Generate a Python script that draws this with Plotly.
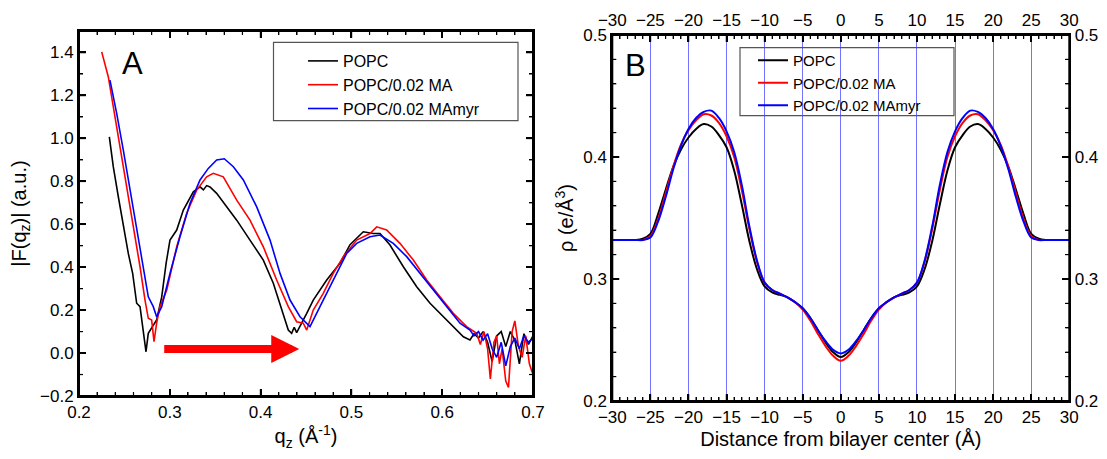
import plotly.graph_objects as go

# ---------------- Panel A: |F(qz)| ----------------
qA_popc = [0.2334, 0.2378, 0.2433, 0.2488, 0.2543, 0.2591, 0.2635, 0.2672, 0.2701, 0.2738,
           0.2763, 0.2790, 0.2818, 0.2855, 0.2911, 0.2960, 0.3002, 0.3076, 0.3149, 0.3259,
           0.3333, 0.3370, 0.3406, 0.3443, 0.3516, 0.3627, 0.3737, 0.3883, 0.4030, 0.4140,
           0.4214, 0.4270, 0.4305, 0.4342, 0.4370, 0.4397, 0.4434, 0.4508, 0.4580, 0.4728,
           0.4874, 0.4985, 0.5131, 0.5241, 0.5315, 0.5425, 0.5572, 0.5719, 0.5866, 0.6012,
           0.6122, 0.6233, 0.6306, 0.6350, 0.6400, 0.6450, 0.6500, 0.6550, 0.6600, 0.6650,
           0.6700, 0.6750, 0.6800, 0.6850, 0.6900, 0.6950, 0.7000]
FA_popc = [1.007, 0.867, 0.728, 0.588, 0.464, 0.371, 0.232, 0.216, 0.123, 0.006,
           0.092, 0.110, 0.123, 0.154, 0.262, 0.420, 0.526, 0.573, 0.666, 0.751,
           0.774, 0.760, 0.780, 0.774, 0.744, 0.681, 0.619, 0.526, 0.433, 0.325,
           0.232, 0.160, 0.107, 0.092, 0.120, 0.095, 0.123, 0.185, 0.247, 0.340,
           0.418, 0.505, 0.565, 0.557, 0.557, 0.503, 0.402, 0.309, 0.232, 0.169,
           0.123, 0.076, 0.061, 0.090, 0.070, 0.100, 0.050, -0.040, 0.080, 0.100,
           0.030, 0.100, 0.060, -0.050, 0.090, 0.040, 0.080]

qA_ma = [0.2250, 0.2323, 0.2378, 0.2452, 0.2525, 0.2598, 0.2672, 0.2727, 0.2763, 0.2800,
         0.2826, 0.2855, 0.2892, 0.2966, 0.3076, 0.3186, 0.3296, 0.3406, 0.3479, 0.3589,
         0.3737, 0.3883, 0.4030, 0.4177, 0.4305, 0.4397, 0.4470, 0.4508, 0.4580, 0.4690,
         0.4800, 0.4911, 0.5058, 0.5205, 0.5279, 0.5388, 0.5535, 0.5682, 0.5829, 0.5976,
         0.6122, 0.6269, 0.6380, 0.6420, 0.6460, 0.6500, 0.6530, 0.6570, 0.6600, 0.6630,
         0.6660, 0.6700, 0.6730, 0.6770, 0.6800, 0.6840, 0.6880, 0.6920, 0.6960, 0.7000]
FA_ma = [1.403, 1.286, 1.147, 0.961, 0.774, 0.588, 0.402, 0.247, 0.162, 0.154,
         0.053, 0.139, 0.216, 0.293, 0.495, 0.651, 0.759, 0.821, 0.837, 0.821,
         0.712, 0.619, 0.495, 0.340, 0.216, 0.146, 0.139, 0.107, 0.200, 0.278,
         0.371, 0.449, 0.526, 0.557, 0.588, 0.573, 0.511, 0.433, 0.340, 0.262,
         0.185, 0.123, 0.092, 0.040, 0.100, 0.020, -0.120, 0.050, 0.080, -0.050,
         0.020, -0.130, -0.160, 0.100, 0.150, 0.030, -0.020, 0.080, -0.050, -0.100]

qA_mamyr = [0.2341, 0.2415, 0.2488, 0.2562, 0.2635, 0.2708, 0.2763, 0.2818, 0.2855, 0.2911,
            0.3002, 0.3112, 0.3222, 0.3333, 0.3424, 0.3516, 0.3600, 0.3700, 0.3810, 0.3957,
            0.4104, 0.4214, 0.4324, 0.4434, 0.4544, 0.4654, 0.4800, 0.4948, 0.5058, 0.5205,
            0.5315, 0.5461, 0.5609, 0.5756, 0.5902, 0.6050, 0.6196, 0.6306, 0.6350, 0.6400,
            0.6450, 0.6500, 0.6550, 0.6600, 0.6650, 0.6700, 0.6750, 0.6800, 0.6850, 0.6900,
            0.6950, 0.7000]
FA_mamyr = [1.271, 1.116, 0.945, 0.759, 0.573, 0.402, 0.262, 0.216, 0.169, 0.216,
            0.371, 0.542, 0.697, 0.806, 0.860, 0.899, 0.905, 0.868, 0.806, 0.681,
            0.526, 0.371, 0.247, 0.169, 0.123, 0.216, 0.340, 0.464, 0.511, 0.542,
            0.550, 0.511, 0.449, 0.371, 0.293, 0.216, 0.139, 0.107, 0.080, 0.100,
            0.060, 0.090, 0.020, -0.020, 0.050, -0.060, 0.030, 0.070, 0.020, 0.080,
            0.050, 0.070]

# ---------------- Panel B: electron density profiles ----------------
z_B = list(range(-30, 31))
rho_popc = [0.332, 0.332, 0.332, 0.332, 0.333, 0.337, 0.353, 0.373, 0.392, 0.406,
            0.416, 0.423, 0.427, 0.425, 0.418, 0.408, 0.389, 0.361, 0.331, 0.308,
            0.294, 0.289, 0.287, 0.285, 0.281, 0.276, 0.268, 0.258, 0.248, 0.240,
            0.236,
            0.240, 0.248, 0.258, 0.268, 0.276, 0.281, 0.285, 0.287, 0.289, 0.294,
            0.308, 0.331, 0.361, 0.389, 0.408, 0.418, 0.425, 0.427, 0.423, 0.416,
            0.406, 0.392, 0.373, 0.353, 0.337, 0.333, 0.332, 0.332, 0.332, 0.332]
rho_ma = [0.332, 0.332, 0.332, 0.332, 0.332, 0.335, 0.349, 0.370, 0.392, 0.410,
          0.422, 0.430, 0.435, 0.434, 0.428, 0.417, 0.400, 0.373, 0.341, 0.314,
          0.297, 0.291, 0.288, 0.285, 0.281, 0.275, 0.266, 0.255, 0.245, 0.237,
          0.233,
          0.237, 0.245, 0.255, 0.266, 0.275, 0.281, 0.285, 0.288, 0.291, 0.297,
          0.314, 0.341, 0.373, 0.400, 0.417, 0.428, 0.434, 0.435, 0.430, 0.422,
          0.410, 0.392, 0.370, 0.349, 0.335, 0.332, 0.332, 0.332, 0.332, 0.332]
rho_mamyr = [0.332, 0.332, 0.332, 0.332, 0.332, 0.334, 0.347, 0.367, 0.390, 0.409,
             0.423, 0.432, 0.437, 0.438, 0.432, 0.421, 0.404, 0.377, 0.343, 0.315,
             0.297, 0.291, 0.288, 0.285, 0.281, 0.276, 0.268, 0.258, 0.249, 0.242,
             0.239,
             0.242, 0.249, 0.258, 0.268, 0.276, 0.281, 0.285, 0.288, 0.291, 0.297,
             0.315, 0.343, 0.377, 0.404, 0.421, 0.432, 0.438, 0.437, 0.432, 0.423,
             0.409, 0.390, 0.367, 0.347, 0.334, 0.332, 0.332, 0.332, 0.332, 0.332]

names = ["POPC", "POPC/0.02 MA", "POPC/0.02 MAmyr"]
colors = ["#000000", "#ff0000", "#0000ff"]

# arrow (panel A) endpoints in data units
arrow_q = [0.2922, 0.4426]
arrow_F = [0.019, 0.019]

FONT = "Liberation Sans, Arial, sans-serif"

# The page body has an 8 px margin: the figure is drawn 8 px right/down,
# so size it 8 px smaller and express positions in its own pixel frame.
OFF = 8
W, H = 1107 - OFF, 459 - OFF
M = 10  # figure margin on every side (px)
PW, PH = W - 2 * M, H - 2 * M


def px_x(p):
    return (p - OFF - M) / PW


def px_y(p):
    return 1 - (p - OFF - M) / PH


# axis ranges
xrA, yrA = [0.2, 0.7], [-0.2, 1.5]
xrB, yrB = [-30, 30], [0.2, 0.5]

# plot-area pixel boxes (left, top, right, bottom) in window pixels
boxA = (79, 31, 533, 396)
boxB = (612.3, 35, 1069.3, 401)

fig = go.Figure()

for q, F, n, c in zip([qA_popc, qA_ma, qA_mamyr], [FA_popc, FA_ma, FA_mamyr], names, colors):
    fig.add_trace(go.Scatter(x=q, y=F, mode="lines", name=n,
                             line=dict(color=c, width=1.6),
                             xaxis="x", yaxis="y", legend="legend"))

for rho, n, c, ax in zip([rho_popc, rho_ma, rho_mamyr], names, colors, ["2", "2", "3"]):
    fig.add_trace(go.Scatter(x=z_B, y=rho, mode="lines", name=n,
                             line=dict(color=c, width=2, shape="spline", smoothing=1.0),
                             xaxis="x" + ax, yaxis="y" + ax, legend="legend2"))

tickfont = dict(family=FONT, size=17, color="black")
titlefont = dict(family=FONT, size=20, color="black")

common = dict(showline=True, linecolor="#000000", linewidth=2, ticks="inside",
              ticklen=7, tickwidth=2, tickcolor="#000000", zeroline=False,
              tickfont=tickfont, automargin=False)


# ---- axis frame + inward ticks (all four sides) drawn as paper shapes ----
def frame_and_ticks(box, xr, yr, xmajor, xminor, ymajor, yminor):
    L, T, R, B = box

    def fx(v):
        return L + (v - xr[0]) / (xr[1] - xr[0]) * (R - L)

    def fy(v):
        return B - (v - yr[0]) / (yr[1] - yr[0]) * (B - T)

    out = [dict(type="rect", xref="paper", yref="paper",
                x0=px_x(L), x1=px_x(R), y0=px_y(B), y1=px_y(T),
                line=dict(color="black", width=2), fillcolor="rgba(0,0,0,0)",
                layer="above")]
    for vals, ln, wd in ((xmajor, 7, 1.6), (xminor, 4, 1.2)):
        for v in vals:
            X = px_x(fx(v))
            for y0, y1 in ((B, B - ln), (T, T + ln)):
                out.append(dict(type="line", xref="paper", yref="paper",
                                x0=X, x1=X, y0=px_y(y0), y1=px_y(y1),
                                line=dict(color="black", width=wd)))
    for vals, ln, wd in ((ymajor, 7, 1.6), (yminor, 4, 1.2)):
        for v in vals:
            Y = px_y(fy(v))
            for x0, x1 in ((L, L + ln), (R, R - ln)):
                out.append(dict(type="line", xref="paper", yref="paper",
                                x0=px_x(x0), x1=px_x(x1), y0=Y, y1=Y,
                                line=dict(color="black", width=wd)))
    return out


A_xmaj = [round(0.2 + 0.1 * i, 2) for i in range(1, 5)]
A_xmin = [round(0.2 + 0.02 * i, 2) for i in range(1, 25) if i % 5]
A_ymaj = [round(-0.2 + 0.2 * i, 2) for i in range(1, 9)]
A_ymin = [round(-0.1 + 0.2 * i, 2) for i in range(0, 8)]
B_xmaj = [-30 + 5 * i for i in range(1, 12)]
B_xmin = [-30 + i for i in range(1, 60) if i % 5]
B_ymaj = [0.3, 0.4]
B_ymin = [round(0.2 + 0.02 * i, 2) for i in range(1, 15) if i % 5]

shapes = frame_and_ticks(boxA, xrA, yrA, A_xmaj, A_xmin, A_ymaj, A_ymin)
shapes += frame_and_ticks(boxB, xrB, yrB, B_xmaj, B_xmin, B_ymaj, B_ymin)
shapes += [
    dict(type="rect", xref="paper", yref="paper", x0=px_x(273.5), x1=px_x(518),
         y0=px_y(120.7), y1=px_y(42.3),
         line=dict(color="#555555", width=1.2), fillcolor="rgba(0,0,0,0)"),
    dict(type="rect", xref="paper", yref="paper", x0=px_x(740), x1=px_x(954),
         y0=px_y(115.7), y1=px_y(47.7),
         line=dict(color="#555555", width=1.2), fillcolor="rgba(0,0,0,0)"),
]

fig.update_layout(
    width=W, height=H,
    margin=dict(l=M, r=M, t=M, b=M, pad=0),
    paper_bgcolor="white", plot_bgcolor="white",
    font=dict(family=FONT, color="black"),
    xaxis=dict(domain=[px_x(boxA[0]), px_x(boxA[2])], anchor="y", range=xrA,
               tick0=0.2, dtick=0.1, tickformat=".1f", mirror="ticks", showgrid=False,
               minor=dict(dtick=0.02, ticks="inside", ticklen=4, tickwidth=1),
               title=dict(text="q<sub>z</sub> (Å<sup>-1</sup>)", font=titlefont, standoff=8),
               **common),
    yaxis=dict(domain=[px_y(boxA[3]), px_y(boxA[1])], anchor="x", range=yrA,
               tick0=0, dtick=0.2, tickformat=".1f", mirror="ticks", showgrid=False,
               minor=dict(dtick=0.1, ticks="inside", ticklen=4, tickwidth=1),
               title=dict(text="|F(q<sub>z</sub>)| (a.u.)", font=titlefont, standoff=8),
               **common),
    xaxis2=dict(domain=[px_x(boxB[0]), px_x(boxB[2])], anchor="y2", range=xrB,
                tick0=0, dtick=5, showgrid=True, gridcolor="#7373ff", gridwidth=1,
                minor=dict(dtick=1, ticks="inside", ticklen=4, tickwidth=1, showgrid=False),
                title=dict(text="Distance from bilayer center (Å)", font=titlefont, standoff=6),
                **common),
    yaxis2=dict(domain=[px_y(boxB[3]), px_y(boxB[1])], anchor="x2", range=yrB,
                tick0=0.2, dtick=0.1, tickformat=".1f", showgrid=False,
                minor=dict(dtick=0.02, ticks="inside", ticklen=4, tickwidth=1),
                title=dict(text="ρ (e/Å<sup>3</sup>)", font=titlefont, standoff=4),
                **common),
    xaxis3=dict(overlaying="x2", anchor="y3", side="top", range=xrB,
                tick0=0, dtick=5, showgrid=False,
                minor=dict(dtick=1, ticks="inside", ticklen=4, tickwidth=1),
                **common),
    yaxis3=dict(overlaying="y2", anchor="x3", side="right", range=yrB,
                tick0=0.2, dtick=0.1, tickformat=".1f", showgrid=False,
                minor=dict(dtick=0.02, ticks="inside", ticklen=4, tickwidth=1),
                **common),
    legend=dict(x=px_x(303), y=px_y(44), xanchor="left", yanchor="top",
                bgcolor="rgba(0,0,0,0)", borderwidth=0,
                font=dict(family=FONT, size=16, color="black"), tracegroupgap=0),
    legend2=dict(x=px_x(753), y=px_y(44), xanchor="left", yanchor="top",
                 bgcolor="rgba(0,0,0,0)", borderwidth=0,
                 font=dict(family=FONT, size=15, color="black"), tracegroupgap=0),
    showlegend=True,
    shapes=shapes,
    annotations=[
        dict(text="A", xref="paper", yref="paper", x=px_x(132), y=px_y(64),
             xanchor="center", yanchor="middle",
             showarrow=False, font=dict(family=FONT, size=31, color="black")),
        dict(text="B", xref="paper", yref="paper", x=px_x(635), y=px_y(65),
             xanchor="center", yanchor="middle",
             showarrow=False, font=dict(family=FONT, size=31, color="black")),
        dict(text="", xref="x", yref="y", x=arrow_q[1], y=arrow_F[1],
             axref="x", ayref="y", ax=arrow_q[0], ay=arrow_F[0],
             showarrow=True, arrowhead=2, arrowsize=0.7, arrowwidth=8, arrowcolor="#ff0000"),
    ],
)

fig.write_html("out.html")
